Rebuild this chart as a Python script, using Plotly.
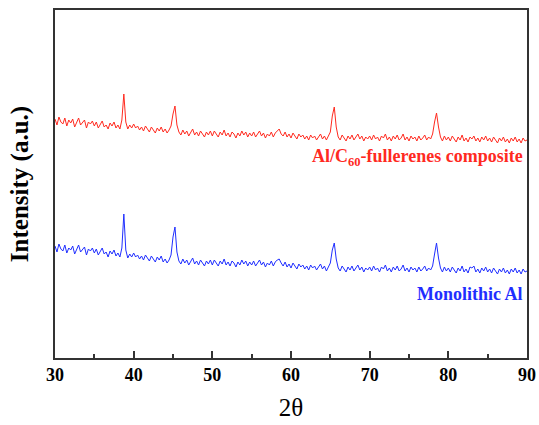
import numpy as np
import plotly.graph_objects as go

# 2-theta sampling grid (degrees), 0.25 deg steps from 30 to 90
two_theta = [round(30 + 0.25 * i, 2) for i in range(241)]

composite = [
    239, 233, 241, 236, 234, 240, 232, 238, 235, 239, 231, 236, 240, 233, 235, 238, 230, 236, 234, 237,
    232, 236, 230, 234, 237, 231, 233, 229, 235, 232, 236, 230, 233, 229, 238, 264, 236, 229, 233, 230,
    234, 230, 232, 228, 231, 227, 232, 229, 226, 231, 228, 225, 230, 227, 231, 226, 229, 225, 228, 232,
    244, 252, 233, 226, 223, 228, 224, 227, 222, 226, 229, 223, 226, 222, 227, 224, 221, 226, 223, 227,
    222, 227, 224, 221, 226, 223, 228, 222, 225, 221, 226, 224, 220, 225, 222, 227, 223, 226, 221, 225,
    222, 226, 221, 224, 227, 222, 225, 220, 224, 222, 226, 221, 225, 227, 229, 224, 222, 226, 221, 224,
    220, 225, 222, 219, 224, 221, 223, 219, 222, 218, 223, 220, 222, 218, 221, 224, 219, 222, 218, 223,
    226, 242, 251, 231, 221, 218, 223, 220, 217, 222, 219, 223, 218, 221, 224, 219, 222, 217, 221, 219,
    222, 218, 223, 219, 221, 217, 222, 220, 224, 218, 221, 217, 222, 219, 223, 218, 220, 224, 218, 221,
    217, 222, 219, 221, 217, 222, 218, 220, 223, 218, 221, 219, 224, 236, 245, 231, 221, 217, 222, 218,
    221, 217, 222, 219, 216, 221, 218, 223, 217, 220, 216, 221, 219, 222, 217, 220, 216, 221, 218, 222,
    217, 220, 216, 221, 218, 215, 220, 217, 221, 216, 219, 215, 220, 217, 221, 216, 219, 215, 220, 217,
    218,
]

monolithic = [
    112, 106, 114, 109, 107, 113, 105, 110, 108, 112, 104, 109, 113, 106, 108, 111, 103, 109, 107, 110,
    105, 109, 103, 107, 110, 104, 106, 101, 107, 104, 108, 102, 105, 101, 110, 144, 108, 100, 104, 101,
    105, 101, 103, 99, 102, 98, 103, 100, 97, 102, 99, 96, 101, 98, 102, 96, 99, 95, 98, 103,
    121, 131, 106, 97, 94, 99, 95, 98, 93, 97, 100, 94, 97, 93, 98, 95, 92, 97, 94, 98,
    93, 98, 95, 92, 97, 94, 99, 93, 96, 92, 97, 95, 91, 96, 93, 98, 94, 97, 92, 96,
    93, 97, 92, 95, 98, 93, 96, 91, 95, 93, 97, 92, 96, 98, 99, 95, 92, 96, 91, 94,
    90, 95, 92, 89, 94, 91, 93, 89, 92, 88, 93, 90, 92, 88, 91, 94, 89, 92, 87, 91,
    95, 108, 115, 99, 90, 87, 92, 89, 86, 91, 88, 92, 87, 90, 93, 88, 91, 86, 90, 88,
    91, 87, 92, 88, 90, 86, 91, 89, 93, 87, 90, 86, 91, 88, 92, 87, 89, 93, 87, 90,
    86, 91, 88, 90, 86, 91, 87, 89, 92, 87, 90, 88, 92, 104, 115, 100, 90, 86, 91, 87,
    90, 86, 91, 88, 85, 90, 87, 92, 86, 89, 85, 91, 90, 92, 86, 89, 85, 90, 87, 91,
    86, 89, 85, 90, 87, 84, 89, 86, 90, 85, 88, 84, 89, 86, 90, 85, 88, 84, 89, 86,
    87,
]

x_ticks = [30, 40, 50, 60, 70, 80, 90]
labels = ["Al/C<sub>60</sub>-fullerenes composite", "Monolithic Al"]
label_y = [201, 64]

FONT = "Liberation Serif, Times New Roman, serif"
RED = "#ff2a1f"
BLUE = "#1f2eff"

fig = go.Figure()
fig.add_trace(go.Scatter(x=two_theta, y=composite, mode="lines",
                         line=dict(color=RED, width=1), showlegend=False))
fig.add_trace(go.Scatter(x=two_theta, y=monolithic, mode="lines",
                         line=dict(color=BLUE, width=1), showlegend=False))

for txt, yv, col in zip(labels, label_y, [RED, BLUE]):
    fig.add_annotation(x=89.8, y=yv, xref="x", yref="y", text=txt, showarrow=False,
                       xanchor="right", yanchor="middle",
                       font=dict(family=FONT, size=18, color=col, weight="bold"))

fig.update_layout(
    width=539, height=425,
    margin=dict(l=55, r=12, t=10, b=67),
    paper_bgcolor="white", plot_bgcolor="white",
    font=dict(family=FONT, color="black"),
    xaxis=dict(
        range=[30, 90], tickmode="array", tickvals=x_ticks, automargin=False,
        ticks="inside", ticklen=7, tickwidth=1.5, tickcolor="#333",
        minor=dict(ticks="inside", ticklen=4, tickwidth=1.5, tickcolor="#333", dtick=5),
        showline=True, linecolor="#333", linewidth=1.5, mirror=True,
        showgrid=False, zeroline=False,
        tickfont=dict(family=FONT, size=18, color="black", weight="bold"),
        title=dict(text="2θ", font=dict(family=FONT, size=25, color="black"), standoff=14),
    ),
    yaxis=dict(
        range=[0, 348], showticklabels=False, ticks="", automargin=False,
        showline=True, linecolor="#333", linewidth=1.5, mirror=True,
        showgrid=False, zeroline=False,
        title=dict(text="Intensity (a.u.)", font=dict(family=FONT, size=25, color="black", weight="bold"), standoff=18),
    ),
)

fig.write_html(
    "out.html",
    config={"displayModeBar": False},
    post_script="document.body.style.margin='0';document.body.style.overflow='hidden';"
                "document.documentElement.style.overflow='hidden';",
)
